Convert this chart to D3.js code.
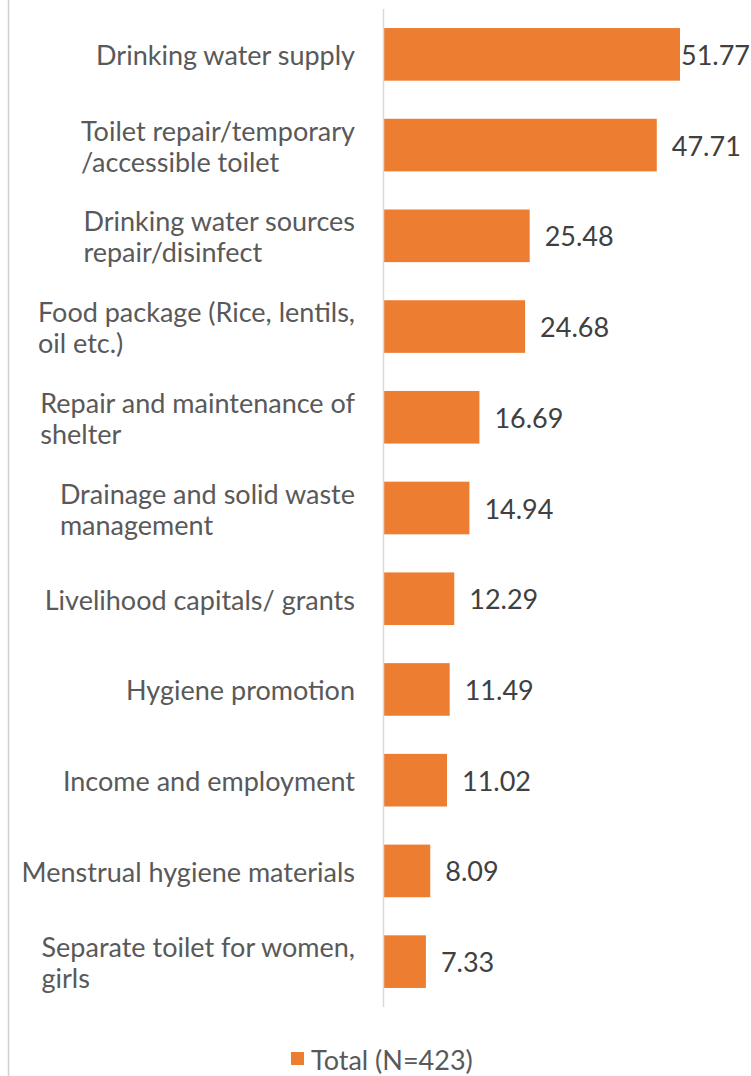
<!DOCTYPE html>
<html>
<head>
<meta charset="utf-8">
<script src="https://cdn.jsdelivr.net/npm/d3@7"></script>
<style>
  html, body { margin: 0; padding: 0; background: #fff; }
  svg { display: block; }
  text { font-family: Lato, "Open Sans", sans-serif; }
</style>
</head>
<body>
<script>
const categories = [
  "Drinking water supply",
  "Toilet repair/temporary\n/accessible toilet",
  "Drinking water sources\nrepair/disinfect",
  "Food package (Rice, lentils,\noil etc.)",
  "Repair and maintenance of\nshelter",
  "Drainage and solid waste\nmanagement",
  "Livelihood capitals/ grants",
  "Hygiene promotion",
  "Income and employment",
  "Menstrual hygiene materials",
  "Separate toilet for women,\ngirls"
];
const values = [51.77, 47.71, 25.48, 24.68, 16.69, 14.94, 12.29, 11.49, 11.02, 8.09, 7.33];
const seriesName = "Total (N=423)";

const W = 751, H = 1076;
const fontSize = 27;
const svg = d3.select("body").append("svg").attr("width", W).attr("height", H);

// outer border (left edge visible)
svg.append("line").attr("x1", 8.5).attr("x2", 8.5).attr("y1", 0).attr("y2", H)
  .attr("stroke", "#d0d0d0").attr("stroke-width", 1.5);

const x0 = 384;
const x = d3.scaleLinear().domain([0, 51.77]).range([x0, 680]);
const y = d3.scaleBand().domain(categories).range([9, 1007]).paddingInner(0.42).paddingOuter(0.21);

// bars
svg.append("g").selectAll("rect").data(values).join("rect")
  .attr("x", x(0))
  .attr("y", (d, i) => y(categories[i]))
  .attr("width", d => x(d) - x(0))
  .attr("height", y.bandwidth())
  .attr("fill", "#ED7D31");

// axis line
svg.append("line").attr("x1", x0 - 0.5).attr("x2", x0 - 0.5).attr("y1", 9).attr("y2", 1007)
  .attr("stroke", "#d9d9d9").attr("stroke-width", 1.5);

// category labels
const labelRight = 355;
const lineH = 31;
categories.forEach((c, i) => {
  const lines = c.split("\n");
  const cy = y(c) + y.bandwidth() / 2;
  const t = svg.append("text")
    .attr("fill", "#595959")
    .attr("font-size", fontSize)
    .attr("dominant-baseline", "central");
  lines.forEach((ln, j) => {
    t.append("tspan").attr("y", cy + (j - (lines.length - 1) / 2) * lineH).text(ln);
  });
  const tsp = t.selectAll("tspan").nodes();
  const maxW = d3.max(tsp, n => n.getComputedTextLength());
  t.selectAll("tspan").attr("x", labelRight - maxW);
});

// value labels
values.forEach((v, i) => {
  const t = svg.append("text")
    .attr("fill", "#404040")
    .attr("font-size", fontSize)
    .attr("dominant-baseline", "central")
    .attr("y", y(categories[i]) + y.bandwidth() / 2)
    .text(v.toFixed(2));
  const w = t.node().getComputedTextLength();
  let tx = x(v) + 15;
  if (tx + w > W - 1) tx = W - 1 - w;
  t.attr("x", tx);
});

// legend
const lg = svg.append("g");
lg.append("rect").attr("x", 291).attr("y", 1052).attr("width", 13).attr("height", 13).attr("fill", "#ED7D31");
lg.append("text").attr("x", 311).attr("y", 1059).attr("font-size", 27)
  .attr("dominant-baseline", "central").attr("fill", "#595959").text(seriesName);
</script>
</body>
</html>
